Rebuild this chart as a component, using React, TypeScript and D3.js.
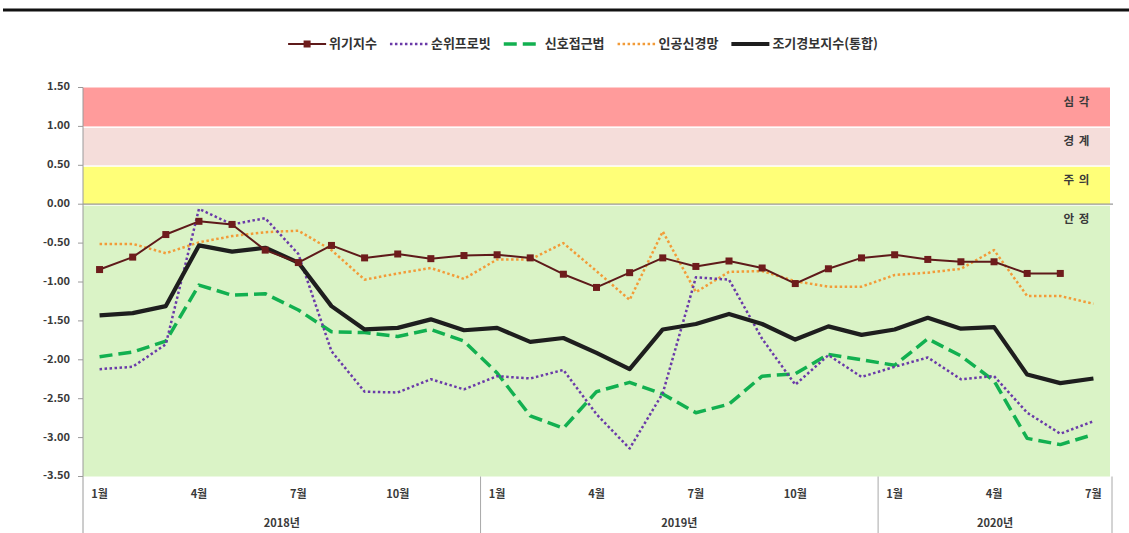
import { useEffect, useRef } from "react";
import * as d3 from "d3";

// x categories: Jan 2018 .. Jul 2020
const monthLabels = [
  "1월", "", "", "4월", "", "", "7월", "", "", "10월", "", "",
  "1월", "", "", "4월", "", "", "7월", "", "", "10월", "", "",
  "1월", "", "", "4월", "", "", "7월",
];
const yearLabels = ["2018년", "2019년", "2020년"];
const yearLengths = [12, 12, 7];

const yTicks = [1.5, 1.0, 0.5, 0.0, -0.5, -1.0, -1.5, -2.0, -2.5, -3.0, -3.5];

// warning bands
const bandNames = ["심 각", "경 계", "주 의", "안 정"];
const bandTops = [1.5, 1.0, 0.5, 0.0];
const bandBottoms = [1.0, 0.5, 0.0, -3.5];
const bandColors = ["#FF9B9B", "#F5DDDA", "#FFFF78", "#DAF3C6"];

// series
const crisisIndex = [
  -0.84, -0.68, -0.39, -0.22, -0.26, -0.59, -0.75, -0.53, -0.69, -0.64, -0.7, -0.66,
  -0.65, -0.69, -0.9, -1.07, -0.88, -0.69, -0.8, -0.73, -0.82, -1.02, -0.83, -0.69,
  -0.65, -0.71, -0.74, -0.74, -0.89, -0.89, null,
];
const probit = [
  -2.12, -2.09, -1.8, -0.06, -0.26, -0.18, -0.64, -1.89, -2.41, -2.42, -2.25, -2.38,
  -2.21, -2.24, -2.13, -2.7, -3.14, -2.43, -0.94, -0.97, -1.73, -2.32, -1.94, -2.22,
  -2.09, -1.97, -2.25, -2.21, -2.68, -2.95, -2.79,
];
const signal = [
  -1.96, -1.9, -1.76, -1.04, -1.17, -1.15, -1.36, -1.64, -1.65, -1.7, -1.61, -1.76,
  -2.17, -2.72, -2.88, -2.41, -2.29, -2.44, -2.68, -2.57, -2.21, -2.18, -1.93, -2.0,
  -2.07, -1.73, -1.95, -2.27, -3.01, -3.09, -2.96,
];
const neuralNet = [
  -0.51, -0.51, -0.63, -0.49, -0.41, -0.36, -0.34, -0.59, -0.97, -0.89, -0.82, -0.96,
  -0.71, -0.71, -0.5, -0.86, -1.23, -0.35, -1.13, -0.87, -0.86, -0.99, -1.06, -1.06,
  -0.91, -0.88, -0.83, -0.59, -1.18, -1.18, -1.28,
];
const ewiTotal = [
  -1.43, -1.4, -1.31, -0.53, -0.61, -0.56, -0.75, -1.31, -1.61, -1.59, -1.48, -1.62,
  -1.59, -1.77, -1.72, -1.91, -2.12, -1.61, -1.54, -1.41, -1.54, -1.74, -1.57, -1.68,
  -1.61, -1.46, -1.6, -1.58, -2.19, -2.3, -2.24,
];

const seriesNames = ["위기지수", "순위프로빗", "신호접근법", "인공신경망", "조기경보지수(통합)"];
const seriesValues = [crisisIndex, probit, signal, neuralNet, ewiTotal];
const seriesStyles = [
  { color: "#5E1A1A", width: 2, dash: "", marker: true },
  { color: "#6A3AA8", width: 2.5, dash: "2.5,2.5", marker: false },
  { color: "#12B050", width: 3.5, dash: "13,6", marker: false },
  { color: "#F29B38", width: 2.5, dash: "2.5,2.5", marker: false },
  { color: "#1E1E1E", width: 4.2, dash: "", marker: false },
];
// draw order: bottom to top
const drawOrder = [3, 2, 1, 4, 0];

const FONT = "'Noto Sans CJK KR', 'Noto Sans', sans-serif";

const W = 1129;
const H = 533;

const App = () => {
  const svgRef = useRef<SVGSVGElement>(null);

  useEffect(() => {
    if (!svgRef.current) return;
    const svg = d3.select(svgRef.current);
    svg.selectAll("*").remove();

    const left = 83;
    const right = 1110;

    const x = d3
      .scaleBand<number>()
      .domain(d3.range(monthLabels.length))
      .range([left, right])
      .padding(0);
    const cx = (i: number) => (x(i) as number) + x.bandwidth() / 2;

    const y = d3.scaleLinear().domain([-3.5, 1.5]).range([476.5, 87.5]);

    // top rule
    svg
      .append("line")
      .attr("x1", 3)
      .attr("x2", W)
      .attr("y1", 10)
      .attr("y2", 10)
      .attr("stroke", "#111")
      .attr("stroke-width", 3);

    // bands
    bandNames.forEach((name, i) => {
      const y0 = y(bandTops[i]);
      const y1 = y(bandBottoms[i]);
      svg
        .append("rect")
        .attr("x", left)
        .attr("y", y0 + (i === 0 ? 0 : 1.5))
        .attr("width", right - left)
        .attr("height", y1 - y0 - (i === 0 ? 0 : 1.5))
        .attr("fill", bandColors[i]);
      svg
        .append("text")
        .attr("x", 1077)
        .attr("y", y(bandTops[i] - 0.2))
        .attr("text-anchor", "middle")
        .attr("dominant-baseline", "middle")
        .attr("font-family", FONT)
        .attr("font-size", 11.5)
        .attr("font-weight", "bold")
        .attr("letter-spacing", 1)
        .attr("fill", "#3a3a3a")
        .text(name);
    });

    // zero line
    svg
      .append("line")
      .attr("x1", left)
      .attr("x2", 1113)
      .attr("y1", y(0))
      .attr("y2", y(0))
      .attr("stroke", "#9a9a9a")
      .attr("stroke-width", 1.2);

    // y axis
    svg
      .append("line")
      .attr("x1", left)
      .attr("x2", left)
      .attr("y1", y(1.5))
      .attr("y2", H)
      .attr("stroke", "#9a9a9a")
      .attr("stroke-width", 1);
    const yt = svg.append("g");
    yt.selectAll("line")
      .data(yTicks)
      .enter()
      .append("line")
      .attr("x1", left - 5)
      .attr("x2", left)
      .attr("y1", (d) => y(d))
      .attr("y2", (d) => y(d))
      .attr("stroke", "#9a9a9a");
    yt.selectAll("text")
      .data(yTicks)
      .enter()
      .append("text")
      .attr("x", 70)
      .attr("y", (d) => y(d))
      .attr("text-anchor", "end")
      .attr("dominant-baseline", "middle")
      .attr("font-family", FONT)
      .attr("font-size", 11)
      .attr("font-weight", "bold")
      .attr("fill", "#3a3a3a")
      .text((d) => d.toFixed(2));

    // x axis: month labels
    svg
      .append("g")
      .selectAll("text")
      .data(monthLabels)
      .enter()
      .append("text")
      .attr("x", (_, i) => cx(i))
      .attr("y", 495)
      .attr("text-anchor", "middle")
      .attr("dominant-baseline", "middle")
      .attr("font-family", FONT)
      .attr("font-size", 11)
      .attr("font-weight", "bold")
      .attr("fill", "#3a3a3a")
      .text((d) => d);

    // year groups
    let start = 0;
    yearLabels.forEach((label, g) => {
      const end = start + yearLengths[g];
      const gx0 = x(start) as number;
      const gx1 = end >= monthLabels.length ? right + 2 : (x(end) as number);
      svg
        .append("line")
        .attr("x1", gx1)
        .attr("x2", gx1)
        .attr("y1", y(-3.5))
        .attr("y2", H)
        .attr("stroke", "#a8a8a8")
        .attr("stroke-width", 1);
      svg
        .append("text")
        .attr("x", (gx0 + gx1) / 2)
        .attr("y", 524)
        .attr("text-anchor", "middle")
        .attr("dominant-baseline", "middle")
        .attr("font-family", FONT)
        .attr("font-size", 11)
        .attr("font-weight", "bold")
        .attr("fill", "#3a3a3a")
        .text(label);
      start = end;
    });

    // series
    const line = d3
      .line<number | null>()
      .defined((d) => d != null)
      .x((_, i) => cx(i))
      .y((d) => y(d as number));

    drawOrder.forEach((s) => {
      const st = seriesStyles[s];
      svg
        .append("path")
        .datum(seriesValues[s])
        .attr("d", line)
        .attr("fill", "none")
        .attr("stroke", st.color)
        .attr("stroke-width", st.width)
        .attr("stroke-dasharray", st.dash || null)
        .attr("stroke-linejoin", "round");
      if (st.marker) {
        svg
          .append("g")
          .selectAll("rect")
          .data(seriesValues[s].map((v, i) => ({ v, i })).filter((d) => d.v != null))
          .enter()
          .append("rect")
          .attr("x", (d) => cx(d.i) - 3.5)
          .attr("y", (d) => y(d.v as number) - 3.5)
          .attr("width", 7)
          .attr("height", 7)
          .attr("fill", "#6E1C1C");
      }
    });

    // legend
    const legend = svg.append("g");
    let lx = 0;
    const symW = 38;
    const itemGap = 13;
    seriesNames.forEach((name, s) => {
      const st = seriesStyles[s];
      const item = legend.append("g").attr("transform", `translate(${lx},0)`);
      item
        .append("line")
        .attr("x1", 0)
        .attr("x2", symW)
        .attr("y1", 0)
        .attr("y2", 0)
        .attr("stroke", st.color)
        .attr("stroke-width", st.width)
        .attr("stroke-dasharray", st.dash || null);
      if (st.marker) {
        item
          .append("rect")
          .attr("x", symW / 2 - 3.5)
          .attr("y", -3.5)
          .attr("width", 7)
          .attr("height", 7)
          .attr("fill", "#6E1C1C");
      }
      const t = item
        .append("text")
        .attr("x", symW + 3)
        .attr("y", 0)
        .attr("dominant-baseline", "middle")
        .attr("font-family", FONT)
        .attr("font-size", 13)
        .attr("font-weight", "bold")
        .attr("fill", "#333")
        .text(name);
      const tw = (t.node() as SVGTextElement).getComputedTextLength();
      lx += symW + 3 + tw + itemGap;
    });
    const total = lx - itemGap;
    legend.attr("transform", `translate(${583 - total / 2},44)`);
  }, []);

  return (
    <svg
      ref={svgRef}
      width={W}
      height={H}
      style={{ position: "absolute", left: 0, top: 0, background: "#fff" }}
    />
  );
};

export default App;
